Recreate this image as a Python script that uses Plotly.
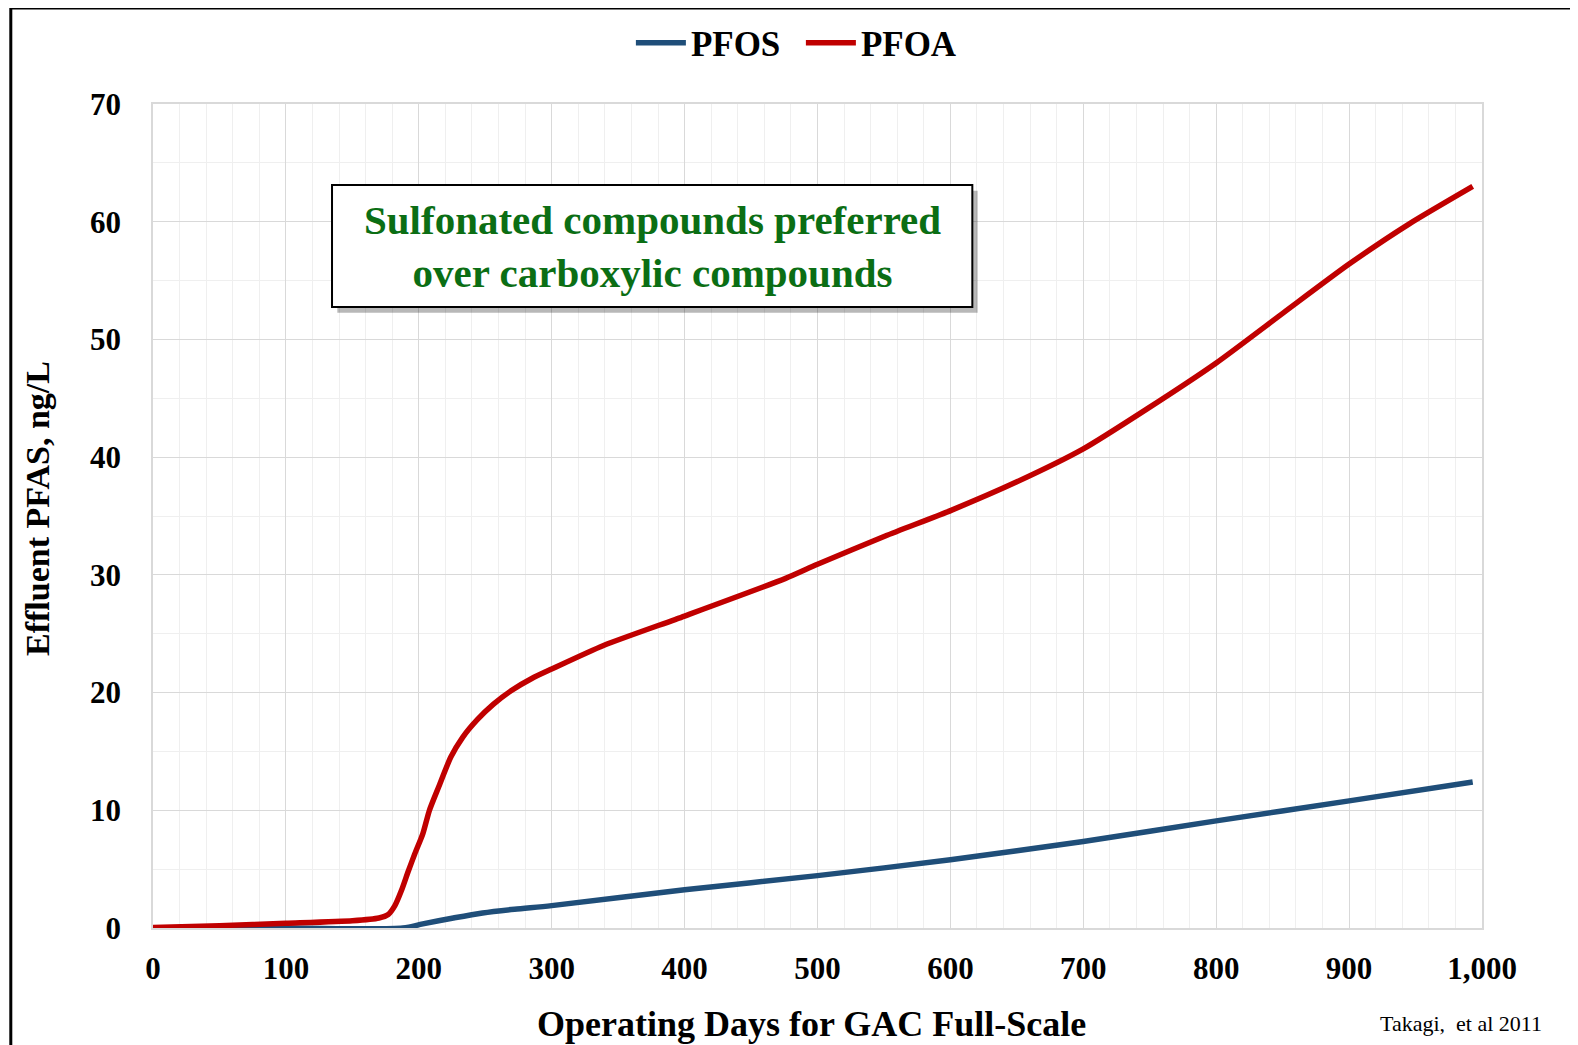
import plotly.graph_objects as go

# ---- data ----
pfoa_days = [0, 50, 100, 150, 170, 177, 182, 187, 192, 197, 203, 208, 215, 224, 233, 244,
             256, 270, 285, 300, 339, 400, 476, 500, 551, 601, 650, 700, 748, 800, 851,
             900, 945, 993]
pfoa_vals = [0.05, 0.2, 0.4, 0.62, 0.85, 1.15, 1.9, 3.2, 4.8, 6.3, 8.0, 10.0, 12.0, 14.5,
             16.2, 17.7, 19.0, 20.2, 21.2, 22.0, 24.0, 26.5, 29.7, 30.9, 33.3, 35.5,
             37.9, 40.7, 44.1, 48.0, 52.3, 56.4, 59.8, 63.0]

pfos_days = [0, 100, 188, 203, 226, 248, 272, 300, 400, 500, 600, 700, 800, 900, 993]
pfos_vals = [0.0, 0.0, 0.0, 0.35, 0.85, 1.28, 1.6, 1.9, 3.25, 4.45, 5.8, 7.35, 9.1, 10.8, 12.4]

x_ticks = [0, 100, 200, 300, 400, 500, 600, 700, 800, 900, 1000]
y_ticks = [0, 10, 20, 30, 40, 50, 60, 70]

FONT = "Liberation Serif"

fig = go.Figure()
fig.add_trace(go.Scatter(x=pfos_days, y=pfos_vals, mode="lines", name="PFOS",
                         line=dict(color="#1f4e79", width=5.5, shape="spline", smoothing=0.8)))
fig.add_trace(go.Scatter(x=pfoa_days, y=pfoa_vals, mode="lines", name="PFOA",
                         line=dict(color="#c00000", width=5.5, shape="spline", smoothing=0.6)))

axis_common = dict(
    showline=True, linecolor="#d9d9d9", linewidth=1.5, mirror=True,
    showgrid=True, gridcolor="#d9d9d9", gridwidth=1.2,
    zeroline=False,
    ticks="outside", tickcolor="rgba(0,0,0,0)",
    tickfont=dict(family=FONT, size=31, color="black", weight="bold"),
)

fig.update_xaxes(range=[0, 1000], tickvals=x_ticks, tickformat=",", ticklen=12,
                 minor=dict(dtick=20, showgrid=True, gridcolor="#efefef", gridwidth=1),
                 **axis_common)
fig.update_yaxes(range=[0, 70], tickvals=y_ticks, ticklen=24,
                 minor=dict(dtick=5, showgrid=True, gridcolor="#efefef", gridwidth=1),
                 **axis_common)

# annotation box with shadow
bx0, bx1, by0, by1 = 0.1347, 0.6165, 0.7536, 0.9017
fig.add_shape(type="rect", xref="paper", yref="paper",
              x0=bx0 + 0.004, x1=bx1 + 0.004, y0=by0 - 0.007, y1=by1 - 0.007,
              fillcolor="rgba(0,0,0,0.28)", line=dict(width=0), layer="above")
fig.add_shape(type="rect", xref="paper", yref="paper",
              x0=bx0, x1=bx1, y0=by0, y1=by1,
              fillcolor="white", line=dict(color="black", width=2), layer="above")
fig.add_annotation(xref="paper", yref="paper", x=(bx0 + bx1) / 2, y=(by0 + by1) / 2,
                   text="Sulfonated compounds preferred<br>over carboxylic compounds",
                   showarrow=False, xanchor="center", yanchor="middle",
                   font=dict(family=FONT, size=41, color="#0b6e14", weight="bold"))

# outer frame
fig.add_shape(type="rect", xref="paper", yref="paper",
              x0=-0.107, x1=1.1, y0=-0.2, y1=1.1165,
              line=dict(color="black", width=3), fillcolor="rgba(0,0,0,0)", layer="above")

# axis titles
fig.add_annotation(xref="paper", yref="paper", x=0.4958, y=-0.1165,
                   text="Operating Days for GAC Full-Scale", showarrow=False,
                   xanchor="center", yanchor="middle",
                   font=dict(family=FONT, size=36, color="black", weight="bold"))
fig.add_annotation(xref="paper", yref="paper", x=-0.0865, y=0.5085,
                   text="Effluent PFAS, ng/L", showarrow=False, textangle=-90,
                   xanchor="center", yanchor="middle",
                   font=dict(family=FONT, size=34, color="black", weight="bold"))
fig.add_annotation(xref="paper", yref="paper", x=0.9845, y=-0.1165,
                   text="Takagi,  et al 2011", showarrow=False,
                   xanchor="center", yanchor="middle",
                   font=dict(family=FONT, size=22, color="black"))

fig.update_layout(
    width=1570, height=1037,
    margin=dict(l=145, r=96, t=96, b=117, autoexpand=False),
    paper_bgcolor="white", plot_bgcolor="white",
    showlegend=True,
    legend=dict(orientation="h", x=0.4875, y=1.074, xanchor="center", yanchor="middle",
                font=dict(family=FONT, size=35, color="black", weight="bold"),
                itemwidth=50, entrywidth=105, tracegroupgap=0, bgcolor="rgba(0,0,0,0)"),
)

fig.write_html("out.html")
